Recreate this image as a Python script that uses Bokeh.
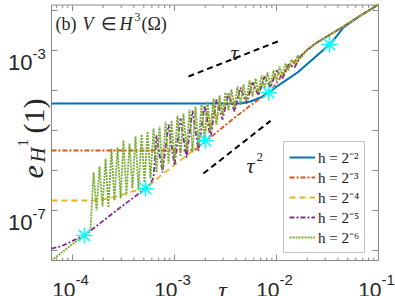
import math
from bokeh.plotting import figure
from bokeh.models import Label, Legend, LegendItem, Range1d
from bokeh.embed import file_html
from bokeh.resources import INLINE

# ---------------- data ----------------
tau_h2 = [6.22e-5, 4.44e-3, 5.56e-3, 6.97e-3, 8.36e-3, 1.145e-2, 1.607e-2, 2.31e-2,
          3.31e-2, 3.87e-2, 4.54e-2, 6.67e-2, 1.0e-1]
err_h2 = [4.73e-5, 4.73e-5, 5.31e-5, 6.68e-5, 8.91e-5, 1.58e-4, 2.82e-4, 6.31e-4,
          1.41e-3, 2.24e-3, 3.76e-3, 7.5e-3, 1.41e-2]

tau_h3 = [6.22e-5, 1.28e-3, 1.61e-3, 2.01e-3, 3.54e-3, 5.56e-3, 8.36e-3, 9.77e-3,
          1.145e-2, 1.37e-2, 1.719e-2, 1.97e-2, 2.41e-2, 3.24e-2, 4.54e-2, 6.67e-2, 1.0e-1]
err_h3 = [3.16e-6, 3.16e-6, 3.35e-6, 5.31e-6, 1.73e-5, 4.24e-5, 8.91e-5, 1.41e-4,
          2.51e-4, 4.47e-4, 7.08e-4, 1.0e-3, 1.5e-3, 2.37e-3, 3.98e-3, 7.5e-3, 1.41e-2]

tau_h4 = [6.22e-5, 1.5e-4, 2.11e-4, 2.96e-4, 3.87e-4, 5.2e-4, 7.3e-4, 1.02e-3, 1.44e-3,
          1.8e-3, 1.968e-3, 2.106e-3, 2.254e-3, 2.412e-3, 2.581e-3, 2.762e-3, 2.955e-3,
          3.384e-3, 3.875e-3, 4.437e-3, 5.081e-3, 5.818e-3, 6.662e-3, 7.628e-3, 8.735e-3,
          1.0e-2, 1.145e-2, 1.311e-2, 1.502e-2, 1.719e-2, 1.97e-2, 2.41e-2, 3.24e-2,
          4.54e-2, 6.67e-2, 1.0e-1]
err_h4 = [1.78e-7, 1.78e-7, 1.94e-7, 2.37e-7, 2.99e-7, 3.55e-7, 7.33e-7, 1.44e-6, 2.84e-6,
          4.47e-6, 5.31e-6, 2.82e-5, 1.0e-5, 4.47e-5, 1.41e-5, 5.62e-5, 2.51e-5,
          7.94e-5, 3.55e-5, 1.12e-4, 5.62e-5, 1.58e-4, 8.41e-5, 2.24e-4, 1.33e-4,
          3.16e-4, 2.24e-4, 4.47e-4, 3.98e-4, 7.08e-4, 1.0e-3, 1.5e-3, 2.37e-3,
          3.98e-3, 7.5e-3, 1.41e-2]

tau_h5 = [6.22e-5, 7.63e-5, 8.93e-5, 1.12e-4, 1.31e-4, 1.88e-4, 2.96e-4, 5.2e-4, 5.82e-4,
          6.23e-4, 6.66e-4, 7.63e-4, 8.74e-4, 1.0e-3, 1.145e-3, 1.311e-3, 1.502e-3,
          1.719e-3, 1.968e-3, 2.254e-3, 2.581e-3, 2.955e-3, 3.384e-3, 3.875e-3, 4.437e-3,
          5.081e-3, 5.818e-3, 6.662e-3, 7.628e-3, 8.735e-3, 1.0e-2, 1.145e-2, 1.311e-2,
          1.502e-2, 1.719e-2, 1.97e-2, 2.41e-2, 3.24e-2, 4.54e-2, 6.67e-2, 1.0e-1]
err_h5 = [1.12e-8, 1.26e-8, 1.5e-8, 2.0e-8, 2.37e-8, 4.9e-8, 1.2e-7, 3.55e-7, 4.73e-7,
          6.68e-7, 7.5e-6, 8.91e-7, 1.41e-5, 1.33e-6, 2.0e-5, 2.11e-6, 3.16e-5,
          3.16e-6, 4.22e-5, 6.68e-6, 5.96e-5, 1.88e-5, 8.41e-5, 2.99e-5, 1.19e-4,
          4.73e-5, 1.58e-4, 7.5e-5, 2.24e-4, 1.19e-4, 3.16e-4, 2.0e-4, 4.47e-4,
          3.76e-4, 7.08e-4, 1.0e-3, 1.5e-3, 2.37e-3, 3.98e-3, 7.5e-3, 1.41e-2]

tau_h6 = [6.22e-5, 7.63e-5, 9.56e-5, 1.31e-4, 1.50e-4,
          1.61e-4, 1.72e-4, 1.84e-4, 1.97e-4, 2.11e-4, 2.25e-4, 2.41e-4, 2.58e-4, 2.76e-4, 2.96e-4,
          3.16e-4, 3.38e-4, 3.62e-4, 3.87e-4, 4.15e-4, 4.44e-4, 4.75e-4, 5.08e-4, 5.44e-4, 5.82e-4,
          6.23e-4, 6.66e-4, 7.13e-4, 7.63e-4, 8.16e-4, 8.74e-4, 9.35e-4, 1.0e-3, 1.07e-3, 1.145e-3,
          1.225e-3, 1.311e-3, 1.403e-3, 1.502e-3, 1.607e-3, 1.719e-3, 1.839e-3, 1.968e-3, 2.106e-3, 2.254e-3,
          2.412e-3, 2.581e-3, 2.762e-3, 2.955e-3, 3.162e-3, 3.384e-3, 3.621e-3, 3.875e-3, 4.146e-3, 4.437e-3,
          4.748e-3, 5.081e-3, 5.437e-3, 5.818e-3, 6.226e-3, 6.662e-3, 7.129e-3, 7.628e-3, 8.163e-3, 8.735e-3,
          9.346e-3, 1.0e-2, 1.07e-2, 1.145e-2, 1.225e-2, 1.311e-2, 1.403e-2, 1.502e-2, 1.607e-2, 1.719e-2,
          1.97e-2, 2.41e-2, 3.24e-2, 4.54e-2, 6.67e-2, 1.0e-1]
err_h6 = [5.62e-9, 8.41e-9, 1.33e-8, 2.37e-8, 3.35e-8,
          8.91e-7, 1.0e-7, 1.26e-6, 1.26e-7, 2.0e-6, 1.19e-7, 3.55e-6, 1.78e-7, 3.76e-6, 2.0e-7,
          5.62e-6, 2.37e-7, 4.73e-6, 3.55e-7, 7.08e-6, 3.16e-7, 7.94e-6, 5.01e-7, 9.44e-6, 6.31e-7,
          1.12e-5, 8.91e-7, 1.26e-5, 1.0e-6, 1.68e-5, 1.5e-6, 1.78e-5, 1.78e-6, 2.37e-5, 2.24e-6,
          2.66e-5, 3.16e-6, 3.35e-5, 2.82e-6, 3.98e-5, 4.22e-6, 4.47e-5, 5.62e-6, 5.31e-5, 8.91e-6,
          6.31e-5, 1.41e-5, 7.5e-5, 2.51e-5, 8.91e-5, 3.16e-5, 1.06e-4, 3.76e-5, 1.26e-4, 4.47e-5,
          1.41e-4, 5.62e-5, 1.78e-4, 7.08e-5, 2.0e-4, 8.91e-5, 2.37e-4, 1.12e-4, 2.82e-4, 1.41e-4,
          3.16e-4, 1.78e-4, 3.98e-4, 2.37e-4, 4.73e-4, 3.16e-4, 5.96e-4, 4.47e-4, 7.5e-4, 6.31e-4,
          1.0e-3, 1.5e-3, 2.37e-3, 3.98e-3, 7.5e-3, 1.41e-2]

star_tau = [1.31e-4, 5.2e-4, 2.01e-3, 8.36e-3, 3.31e-2]
star_err = [2.37e-8, 3.55e-7, 5.62e-6, 8.91e-5, 1.41e-3]

ref1_tau = [1.37e-3, 1.12e-2]   # slope-1 guide ("tau")
ref1_err = [2.24e-4, 1.83e-3]
ref2_tau = [1.92e-3, 8.73e-3]   # slope-2 guide ("tau^2")
ref2_err = [8.41e-7, 1.74e-5]

series_labels = ["h = 2⁻²", "h = 2⁻³", "h = 2⁻⁴", "h = 2⁻⁵", "h = 2⁻⁶"]
x_ticks = [1e-4, 1e-3, 1e-2, 1e-1]
x_tick_exp = ["-4", "-3", "-2", "-1"]
x_minor = [k * 10.0 ** d for d in range(-5, -1) for k in range(2, 10)]
y_ticks = [1e-8, 1e-7, 1e-6, 1e-5, 1e-4, 1e-3, 1e-2]
y_label_ticks = [1e-3, 1e-7]
y_label_exp = ["-3", "-7"]

# ---------------- geometry: reference pixel <-> data ----------------
def PX(xp):
    return 10 ** (-4 + (xp - 72) / 102)
def PY(yp):
    return 10 ** (-3 - (yp - 50) / 40)

# axes box of the reference (pixels 51..378 x 4.5..260)
X0, X1, Y0, Y1 = PX(51), PX(378), PY(260), PY(4.5)

p = figure(width=395, height=296, x_axis_type="log", y_axis_type="log",
           x_range=Range1d(PX(0), PX(395)), y_range=Range1d(PY(296), PY(0)),
           output_backend="svg", toolbar_location=None,
           min_border_left=0, min_border_right=0, min_border_top=0, min_border_bottom=0)
p.margin = (0, 0, 0, 0)
p.axis.visible = False
p.xgrid.visible = False
p.ygrid.visible = False
p.outline_line_color = None
p.background_fill_color = "white"
p.border_fill_color = "white"

AX = "#8a8a8a"
# axes box and inward ticks (MATLAB style)
p.quad(left=[X0], right=[X1], bottom=[Y0], top=[Y1], fill_color=None, line_color=AX, line_width=1)
xt = [t for t in x_ticks if X0 < t < X1]
xm = [t for t in x_minor if X0 < t < X1]
yt = [t for t in y_ticks if Y0 < t < Y1]
p.segment(x0=xt, y0=[Y0] * len(xt), x1=xt, y1=[PY(254)] * len(xt), line_color=AX)
p.segment(x0=xt, y0=[Y1] * len(xt), x1=xt, y1=[PY(10.5)] * len(xt), line_color=AX)
p.segment(x0=xm, y0=[Y0] * len(xm), x1=xm, y1=[PY(257)] * len(xm), line_color=AX)
p.segment(x0=xm, y0=[Y1] * len(xm), x1=xm, y1=[PY(7.5)] * len(xm), line_color=AX)
p.segment(x0=[X0] * len(yt), y0=yt, x1=[PX(57)] * len(yt), y1=yt, line_color=AX)
p.segment(x0=[X1] * len(yt), y0=yt, x1=[PX(372)] * len(yt), y1=yt, line_color=AX)

r2 = p.line(tau_h2, err_h2, line_color="#0072BD", line_width=2)
r3 = p.line(tau_h3, err_h3, line_color="#D95319", line_width=1.8, line_dash="5 2 2 2")
r4 = p.line(tau_h4, err_h4, line_color="#EDB120", line_width=1.8, line_dash="6 4")
r5 = p.line(tau_h5, err_h5, line_color="#7E2F8E", line_width=1.8, line_dash="5 2 2 2")
r6 = p.line(tau_h6, err_h6, line_color="#77AC30", line_width=1.8, line_dash="2 1")

p.line(ref1_tau, ref1_err, line_color="black", line_width=2, line_dash="6 4")
p.line(ref2_tau, ref2_err, line_color="black", line_width=2, line_dash="6 4")

p.scatter(star_tau, star_err, marker="asterisk", size=16, line_color="#00FFFF", line_width=1.5)

legend = Legend(items=[LegendItem(label=l, renderers=[r]) for l, r in
                       zip(series_labels, [r2, r3, r4, r5, r6])],
                location=(283, 43), margin=0, padding=5, spacing=0,
                glyph_width=26, glyph_height=20, label_height=20, label_standoff=3,
                label_text_font="Liberation Serif", label_text_font_size="15px",
                label_text_color="#1a1a1a", border_line_color=AX,
                border_line_width=1, background_fill_alpha=1.0)
p.add_layout(legend)

TXT = "#262626"
def lab(xp, yp, text, size, font="Liberation Sans", style="normal", align="left",
        baseline="alphabetic", angle=0.0):
    p.add_layout(Label(x=PX(xp), y=PY(yp), text=text, text_font=font, text_font_size=size,
                       text_font_style=style, text_align=align, text_baseline=baseline,
                       angle=angle, text_color=TXT))

# tick labels
for t, e in zip(x_ticks, x_tick_exp):
    xp = 72 + 102 * (math.log10(t) + 4)
    lab(xp + 3, 289, "10", "21px", align="right")
    lab(xp + 3, 279, e, "15px")
for t, e in zip(y_label_ticks, y_label_exp):
    yp = 50 - 40 * (math.log10(t) + 3)
    lab(32, yp + 12, "10", "22px", align="right")
    lab(32, yp + 3, e, "15px")

# axis labels
lab(222, 289, "τ", "24px", font="Liberation Serif", style="italic", align="center")
A = math.pi / 2
lab(33, 178, "e", "30px", font="Liberation Serif", style="italic", angle=A)
lab(37, 162, "H", "21px", font="Liberation Serif", style="italic", angle=A)
lab(22, 146, "1", "15px", font="Liberation Serif", angle=A)
lab(33, 133, "(1)", "30px", font="Liberation Serif", angle=A)

# title inside the axes
lab(55, 23, "(b)", "18px", font="Liberation Serif")
lab(82, 23, "V", "18px", font="Liberation Serif", style="italic")
lab(100, 23, "∈", "18px", font="Liberation Serif")
lab(119, 23, "H", "18px", font="Liberation Serif", style="italic")
lab(134, 16, "3", "12px", font="Liberation Serif")
lab(141, 23, "(Ω)", "18px", font="Liberation Serif")

# guide labels
lab(230, 52, "τ", "22px", font="Liberation Serif", style="italic")
lab(246, 165, "τ", "22px", font="Liberation Serif", style="italic")
lab(256, 156, "2", "13px", font="Liberation Serif")

open("out.html", "w").write(file_html(p, INLINE))
